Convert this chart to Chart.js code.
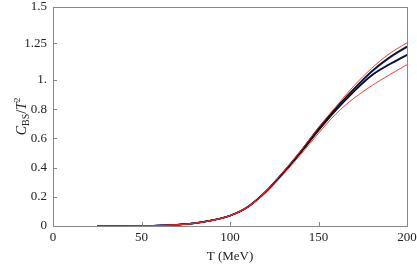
<!DOCTYPE html>
<html>
<head>
<meta charset="utf-8">
<script src="https://cdn.jsdelivr.net/npm/chart.js@4"></script>
<style>
  html, body { margin: 0; padding: 0; background: #fff; }
  #wrap { width: 417px; height: 264px; }
</style>
</head>
<body>
<div id="wrap"><canvas id="myChart" width="417" height="264"></canvas></div>
<script>
// temperatures (MeV)
const temps = [25, 40, 50, 60, 70, 80, 90, 100, 110, 120, 130, 140, 150, 160, 170, 180, 190, 200];

// curves
const redUpper   = [0, 0, 0.001, 0.003, 0.008, 0.019, 0.039, 0.072, 0.132, 0.235, 0.37, 0.515, 0.675, 0.82, 0.96, 1.08, 1.18, 1.255];
const blackUpper = [0, 0, 0.001, 0.003, 0.008, 0.019, 0.039, 0.071, 0.131, 0.234, 0.367, 0.513, 0.669, 0.81, 0.94, 1.06, 1.155, 1.23];
const blueUpper  = [0, 0, 0.001, 0.003, 0.008, 0.019, 0.039, 0.071, 0.131, 0.233, 0.365, 0.51, 0.665, 0.805, 0.935, 1.055, 1.15, 1.225];
const blueLower  = [0, 0, 0.001, 0.003, 0.008, 0.019, 0.039, 0.071, 0.13, 0.232, 0.363, 0.507, 0.658, 0.799, 0.924, 1.034, 1.109, 1.174];
const central    = [0, 0, 0.001, 0.003, 0.008, 0.019, 0.039, 0.07, 0.13, 0.231, 0.361, 0.503, 0.654, 0.795, 0.92, 1.03, 1.105, 1.17];
const redLower   = [0, 0, 0.001, 0.003, 0.008, 0.019, 0.038, 0.07, 0.128, 0.225, 0.352, 0.49, 0.635, 0.77, 0.875, 0.96, 1.035, 1.105];

const xTicks = [0, 50, 100, 150, 200];
const yTicks = [0, 0.2, 0.4, 0.6, 0.8, 1, 1.25, 1.5];
const yTickLabels = ["0", "0.2", "0.4", "0.6", "0.8", "1.", "1.25", "1.5"];

const serif = "Liberation Serif";

function pts(ys) {
    return temps.map((t, i) => ({ x: t, y: ys[i] }));
}

function line(ys, color, width) {
    return {
        data: pts(ys),
        borderColor: color,
        borderWidth: width,
        pointRadius: 0,
        fill: false,
        cubicInterpolationMode: 'monotone'
    };
}

// inside tick marks, frame and the y title with sub/superscript
const framePlugin = {
    id: 'frame',
    afterDraw(chart) {
        const ctx = chart.ctx;
        const a = chart.chartArea;
        const xs = chart.scales.x, ys = chart.scales.y;
        ctx.save();
        ctx.strokeStyle = '#888';
        ctx.lineWidth = 1;
        ctx.strokeRect(Math.round(a.left) + 0.5, Math.round(a.top) + 0.5, Math.round(a.right - a.left), Math.round(a.bottom - a.top));
        ctx.beginPath();
        xTicks.forEach(v => {
            const px = Math.round(xs.getPixelForValue(v)) + 0.5;
            ctx.moveTo(px, a.bottom); ctx.lineTo(px, a.bottom - 4);
        });
        yTicks.forEach(v => {
            const py = Math.round(ys.getPixelForValue(v)) + 0.5;
            ctx.moveTo(a.left, py); ctx.lineTo(a.left + 4, py);
        });
        ctx.stroke();

        // y title: C_BS / T^2
        ctx.translate(22, (a.top + a.bottom) / 2);
        ctx.rotate(-Math.PI / 2);
        ctx.fillStyle = '#222';
        ctx.textBaseline = 'alphabetic';
        const parts = [
            { t: 'C', f: 'italic 14px ' + serif, dy: 0 },
            { t: 'BS', f: '10px ' + serif, dy: 3 },
            { t: '/', f: '14px ' + serif, dy: 0 },
            { t: 'T', f: 'italic 14px ' + serif, dy: 0 },
            { t: '2', f: '9px ' + serif, dy: -6 }
        ];
        let total = 0;
        parts.forEach(p => { ctx.font = p.f; total += ctx.measureText(p.t).width; });
        let x = -total / 2;
        parts.forEach(p => {
            ctx.font = p.f;
            ctx.fillText(p.t, x, 4 + p.dy);
            x += ctx.measureText(p.t).width;
        });
        ctx.restore();
    }
};

const config = {
    type: 'line',
    data: {
        datasets: [
            line(redUpper, 'rgba(255,40,40,0.9)', 1),
            line(redLower, 'rgba(255,40,40,0.9)', 1),
            line(blackUpper, '#111', 1.5),
            line(central, '#111', 1.5),
            line(blueLower, '#2233dd', 1.5),
            line(blueUpper, '#2233dd', 1.5)
        ]
    },
    options: {
        responsive: false,
        animation: false,
        layout: { padding: { top: 7, right: 10, left: 0, bottom: 0 } },
        plugins: {
            legend: { display: false },
            tooltip: { enabled: false }
        },
        scales: {
            x: {
                type: 'linear',
                min: 0,
                max: 200,
                afterBuildTicks: s => { s.ticks = xTicks.map(v => ({ value: v })); },
                afterFit: s => { s.height = 38; s.paddingLeft = 0; s.paddingRight = 0; },
                grid: { display: false, drawTicks: false },
                border: { display: false },
                ticks: {
                    color: '#222',
                    padding: 4,
                    maxRotation: 0,
                    font: { family: serif, size: 13 }
                },
                title: {
                    display: true,
                    text: 'T (MeV)',
                    color: '#222',
                    padding: { top: 2, bottom: 0 },
                    font: { family: serif, size: 13 }
                }
            },
            y: {
                min: 0,
                max: 1.5,
                afterBuildTicks: s => { s.ticks = yTicks.map(v => ({ value: v })); },
                afterFit: s => { s.width = 53; s.paddingTop = 0; s.paddingBottom = 0; },
                grid: { display: false, drawTicks: false },
                border: { display: false },
                ticks: {
                    color: '#222',
                    padding: 6,
                    font: { family: serif, size: 13 },
                    callback: (v) => {
                        const i = yTicks.indexOf(v);
                        return i >= 0 ? yTickLabels[i] : '';
                    }
                }
            }
        }
    },
    plugins: [framePlugin]
};

const ctx = document.getElementById('myChart').getContext('2d');
const myChart = new Chart(ctx, config);
</script>
</body>
</html>
